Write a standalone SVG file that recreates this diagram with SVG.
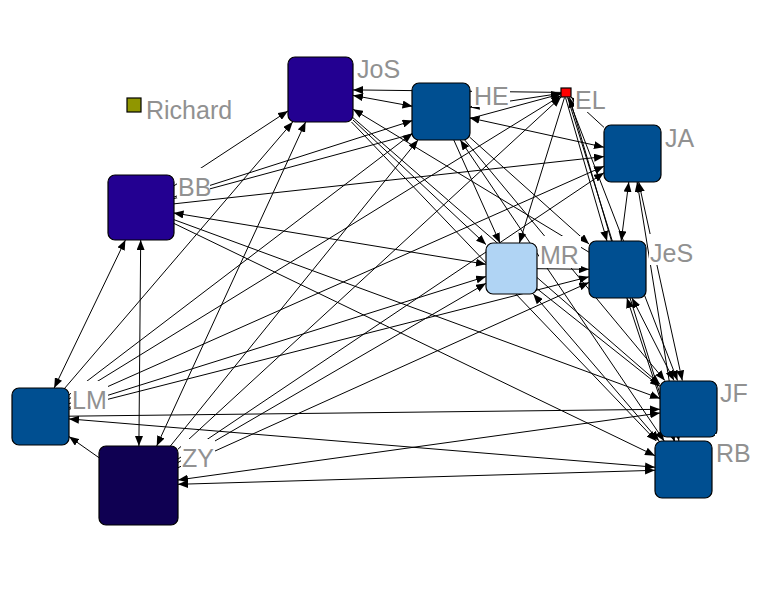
<svg xmlns="http://www.w3.org/2000/svg" width="781" height="598" viewBox="0 0 781 598">
<defs>
<marker id="ah" markerUnits="userSpaceOnUse" markerWidth="11" markerHeight="8" refX="10" refY="4" orient="auto-start-reverse">
<path d="M0,0 L10,4 L0,8 z" fill="#000"/>
</marker>
<style>
.e{stroke:#000;stroke-width:1;fill:none;marker-end:url(#ah)}
.bi{marker-start:url(#ah)}
.n{stroke:#000;stroke-width:1.2}
.c1{fill:#230091}
.c2{fill:#004f91}
.c3{fill:#0f0052}
.c4{fill:#b0d4f4}
.lb{fill:#fff}
.t{font-family:"Liberation Sans",Arial,sans-serif;font-size:25px;fill:#919191}
</style>
</defs>
<rect width="781" height="598" fill="#fff"/>
<g id="connectors">
<line class="e bi" x1="353" y1="95.4" x2="412.5" y2="106.3"/>
<line class="e" x1="561" y1="92.4" x2="353" y2="89.9"/>
<line class="e" x1="173.5" y1="186.1" x2="288" y2="110.9"/>
<line class="e" x1="64.9" y1="388" x2="292.7" y2="122"/>
<line class="e bi" x1="305.6" y1="122" x2="156.7" y2="446"/>
<line class="e" x1="353" y1="120" x2="486" y2="244.6"/>
<line class="e" x1="353" y1="117.7" x2="660" y2="384.3"/>
<line class="e" x1="351.5" y1="122" x2="656.3" y2="441"/>
<line class="e" x1="589" y1="252.2" x2="353" y2="109.2"/>
<line class="e" x1="173.5" y1="197.1" x2="412.5" y2="120.6"/>
<line class="e" x1="173.5" y1="198.7" x2="561" y2="93.9"/>
<line class="e" x1="173.5" y1="203.9" x2="604" y2="156.6"/>
<line class="e bi" x1="173.5" y1="212.9" x2="486" y2="264.3"/>
<line class="e" x1="173.5" y1="219.5" x2="660" y2="398.5"/>
<line class="e" x1="173.5" y1="223.2" x2="655" y2="455.7"/>
<line class="e bi" x1="125.4" y1="240" x2="54.2" y2="388"/>
<line class="e bi" x1="140.7" y1="240" x2="138.9" y2="446"/>
<line class="e" x1="99" y1="457.7" x2="69" y2="436.6"/>
<line class="e" x1="69" y1="416.2" x2="660" y2="409.3"/>
<line class="e bi" x1="69" y1="418.9" x2="655" y2="467.2"/>
<line class="e" x1="69" y1="394.8" x2="412.5" y2="133.2"/>
<line class="e" x1="69" y1="398.9" x2="561" y2="95.6"/>
<line class="e" x1="69" y1="403.8" x2="604" y2="166.2"/>
<line class="e" x1="69" y1="407.5" x2="486" y2="276.5"/>
<line class="e" x1="69" y1="409.2" x2="589" y2="276.8"/>
<line class="e" x1="170.4" y1="446" x2="418" y2="140"/>
<line class="e" x1="178" y1="449.2" x2="561" y2="97.1"/>
<line class="e" x1="178" y1="459" x2="604" y2="172.7"/>
<line class="e" x1="178" y1="462.5" x2="486" y2="283.3"/>
<line class="e" x1="178" y1="467.7" x2="589" y2="282.4"/>
<line class="e bi" x1="178" y1="480" x2="660" y2="413"/>
<line class="e bi" x1="178" y1="484.3" x2="655" y2="470.3"/>
<line class="e bi" x1="469.5" y1="107.2" x2="561" y2="93.3"/>
<line class="e bi" x1="469.5" y1="117.8" x2="604" y2="147.2"/>
<line class="e" x1="453.8" y1="140" x2="500" y2="243"/>
<line class="e" x1="469.5" y1="137" x2="589" y2="244"/>
<line class="e" x1="464.7" y1="140" x2="664.8" y2="380.5"/>
<line class="e bi" x1="460.3" y1="140" x2="664.2" y2="441"/>
<line class="e" x1="564.5" y1="97.5" x2="519.4" y2="243"/>
<line class="e" x1="565.5" y1="97.5" x2="607" y2="241"/>
<line class="e" x1="611.5" y1="241" x2="569.5" y2="97.5"/>
<line class="e" x1="604" y1="127.4" x2="571" y2="97.1"/>
<line class="e" x1="568" y1="97.5" x2="677.5" y2="380.5"/>
<line class="e" x1="567.6" y1="97.5" x2="674.6" y2="441"/>
<line class="e bi" x1="628.8" y1="182" x2="621.2" y2="241"/>
<line class="e bi" x1="638.7" y1="182" x2="682.3" y2="380.5"/>
<line class="e bi" x1="637.1" y1="182" x2="678.9" y2="441"/>
<line class="e" x1="537" y1="268.7" x2="589" y2="269.3"/>
<line class="e" x1="537" y1="288.7" x2="660" y2="386.4"/>
<line class="e bi" x1="533.3" y1="294" x2="659.1" y2="441"/>
<line class="e bi" x1="632" y1="298" x2="674" y2="380.5"/>
<line class="e bi" x1="626.9" y1="298" x2="674.1" y2="441"/>
</g>
<g id="Richard"><rect class="n" x="127" y="98" width="14" height="14" fill="#909600"/><text class="t" x="146" y="119">Richard</text></g>
<g id="JoS"><rect class="n c1" x="288" y="57" width="65" height="65" rx="7"/><rect class="lb" x="355" y="50" width="47" height="31"/><text class="t" x="357" y="78">JoS</text></g>
<g id="HE"><rect class="n c2" x="412" y="83" width="58" height="57" rx="7"/><rect class="lb" x="472" y="77" width="38" height="30"/><text class="t" x="474" y="105">HE</text></g>
<g id="EL"><rect class="lb" x="574" y="81" width="33" height="31"/><rect class="n" x="561" y="88" width="10" height="9" fill="#ff0000"/><text class="t" x="575" y="109">EL</text></g>
<g id="JA"><rect class="n c2" x="604" y="125" width="57" height="57" rx="7"/><rect class="lb" x="664" y="119" width="34" height="31"/><text class="t" x="665" y="147">JA</text></g>
<g id="JeS"><rect class="n c2" x="589" y="241" width="57" height="57" rx="7"/><rect class="lb" x="649" y="234" width="46" height="31"/><text class="t" x="650" y="262">JeS</text></g>
<g id="MR"><rect class="n c4" x="486" y="243" width="51" height="51" rx="7"/><rect class="lb" x="539" y="236" width="42" height="32"/><text class="t" x="540" y="264">MR</text></g>
<g id="BB"><rect class="n c1" x="108" y="175" width="66" height="65" rx="7"/><rect class="lb" x="177" y="168" width="33" height="30"/><text class="t" x="178" y="196">BB</text></g>
<g id="LM"><rect class="n c2" x="12" y="388" width="57" height="57" rx="7"/><rect class="lb" x="71" y="381" width="37" height="31"/><text class="t" x="72" y="409">LM</text></g>
<g id="ZY"><rect class="n c3" x="99" y="446" width="79" height="79" rx="7"/><rect class="lb" x="181" y="439" width="34" height="31"/><text class="t" x="182" y="467">ZY</text></g>
<g id="JF"><rect class="n c2" x="660" y="381" width="57" height="56" rx="7"/><rect class="lb" x="719" y="374" width="31" height="31"/><text class="t" x="720" y="402">JF</text></g>
<g id="RB"><rect class="n c2" x="655" y="441" width="57" height="57" rx="7"/><rect class="lb" x="715" y="434" width="38" height="31"/><text class="t" x="716" y="462">RB</text></g>
</svg>
